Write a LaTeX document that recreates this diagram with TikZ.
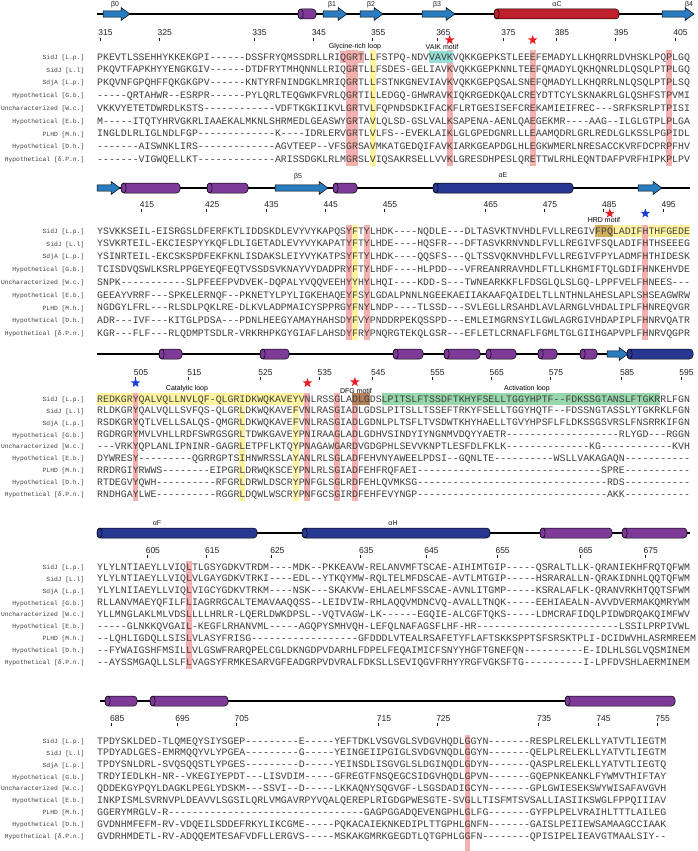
\documentclass[tikz,border=0pt]{standalone}
\usepackage{fontspec}
\setmainfont{Liberation Sans}
\setmonofont{Liberation Mono}
\usetikzlibrary{shapes.geometric}
\definecolor{seqgray}{RGB}{62,62,62}
\definecolor{numgray}{RGB}{30,30,30}
\definecolor{hlpink}{RGB}{245,176,176}
\definecolor{hlyel}{RGB}{253,243,160}
\definecolor{hlcyan}{RGB}{150,222,214}
\definecolor{hlgreen}{RGB}{152,214,172}
\definecolor{hlbrown}{RGB}{180,128,92}
\definecolor{hlkhaki}{RGB}{210,175,95}
\definecolor{strandblue}{RGB}{42,124,192}
\definecolor{helixpurple}{RGB}{125,58,150}
\definecolor{helixnavy}{RGB}{40,55,145}
\definecolor{helixred}{RGB}{192,32,44}
\definecolor{starred}{RGB}{235,30,40}
\definecolor{starblue}{RGB}{30,60,215}
\newcommand{\mystripe}[4]{\fill[#1] ({97+5.928*(#2)},#3) rectangle ({97+5.928*(#2+1)},#4);}
\newcommand{\myrbox}[4]{\fill[#1] ({97+5.928*(#2)},{#4-6.4}) rectangle ({97+5.928*(#3+1)},{#4+6.4});}
\newcommand{\mytick}[4]{\draw[tk] ({99.96+5.928*(#2)},{#3+1.6}) -- ({99.96+5.928*(#2)},{#3+4.6});
  \node[num] (#1) at ({99.96+5.928*(#2)-1.8},#3) {#4};}
\newcommand{\seqrow}[4]{\node[lab] (#1l) at (84.5,{#2+2.3}) {#3};
  \node[seq] (#1) at (97,{#2+3}) {#4};}
\newcommand{\strand}[3]{\draw[strandst] (#1,{#3-3.2}) -- ({#2-9},{#3-3.2}) -- ({#2-9},{#3-6.5}) -- (#2,#3) -- ({#2-9},{#3+6.5}) -- ({#2-9},{#3+3.2}) -- (#1,{#3+3.2}) -- cycle;}
\newcommand{\cyl}[4]{\draw[cylst,fill=#1,rounded corners=3.5] (#2,{#4-5}) rectangle (#3,{#4+5});
  \draw[cylst,fill=#1] ({#2+2.6},#4) ellipse [x radius=2.6, y radius=5];}
\begin{document}
\begin{tikzpicture}[x=1pt,y=-1pt,
  seq/.style={font=\ttfamily\fontsize{9.88}{10}\selectfont, anchor=base west, inner sep=0, text=seqgray},
  lab/.style={font=\ttfamily\fontsize{6.3}{7}\selectfont, anchor=base east, inner sep=0, text=seqgray},
  num/.style={font=\fontsize{8.5}{9}\selectfont, anchor=base west, inner sep=0, text=numgray},
  ssl/.style={font=\fontsize{7}{8}\selectfont, inner sep=0, text=numgray},
  motif/.style={font=\fontsize{7}{8}\selectfont, inner sep=0, text=black},
  tk/.style={line width=0.8pt, numgray},
  barline/.style={line width=1.3pt, black},
  strandst/.style={fill=strandblue, draw=black, line width=0.5pt},
  cylst/.style={draw=black, line width=0.5pt},
  rstar/.style={star, star points=5, star point ratio=2.4, fill=starred, draw=none, minimum size=10pt, inner sep=0},
  bstar/.style={star, star points=5, star point ratio=2.4, fill=starblue, draw=none, minimum size=10pt, inner sep=0}]
\fill[white] (0,0) rectangle (697,851);
\useasboundingbox (0,0) rectangle (697,851);

% ================= BLOCK 1 =================
\draw[barline] (97,14) -- (688,14);
\strand{103}{130}{14}
\cyl{helixpurple}{298}{316}{14}
\strand{323}{347}{14}
\strand{360}{383}{14}
\strand{422}{455}{14}
\cyl{helixred}{494}{619}{14}
\strand{662}{694}{14}
\node[ssl] (lb0) at (115,5) {β0};
\node[ssl] (lb1) at (332,5) {β1};
\node[ssl] (lb2) at (371,5) {β2};
\node[ssl] (lb3) at (437,5) {β3};
\node[ssl] (lac) at (557,4) {αC};
\node[ssl] (lb4) at (689,5) {β4};
\mytick{n315}{0}{36}{315}
\mytick{n325}{10}{36}{325}
\mytick{n335}{26}{36}{335}
\mytick{n345}{36}{36}{345}
\mytick{n355}{46}{36}{355}
\mytick{n365}{57}{36}{365}
\mytick{n375}{68}{36}{375}
\mytick{n385}{77}{36}{385}
\mytick{n395}{87}{36}{395}
\mytick{n405}{97}{36}{405}
\myrbox{hlpink}{41}{44}{57}
\foreach \c in {42,43,59,73,96} {\mystripe{hlpink}{\c}{50.5}{165.9}}
\mystripe{hlyel}{46}{50.5}{165.9}
\myrbox{hlcyan}{56}{59}{57}
\node[rstar] (st1) at ({99.96+5.928*59},40) {};
\node[rstar] (st2) at ({99.96+5.928*73},40) {};
\node[motif] (glyc) at (355,46.5) {Glycine-rich loop};
\node[motif] (vaik) at (442,46.5) {VAIK motif};
\seqrow{a1}{57}{SidJ [L.p.]}{PKEVTLSSEHHYKKEKGPI------DSSFRYQMSSDRLLRIQGRTLLFSTPQ-NDVVAVKVQKKGEPKSTLEEEFEMADYLLKHQRRLDVHSKLPQPLGQ}
\seqrow{a2}{69.8}{SidJ [L.l]}{PKQVTFAPKHYYENGKGIV------DTDFRYTMHQNNLLRIQGRTLLFSDES-GELIAVKVQKKGEPKNNLTEEFQMADYLQKHQNRLDLQSQLPTPLGQ}
\seqrow{a3}{82.6}{SdjA [L.p.]}{PKQVNFGPQHFFQKGKGPV------KNTYRFNINDGKLMRIQGRTLLFSTNKGNEVIAVKVQKKGEPQSALSNEFQMADYLLKHQRRLNLQSQLPTPLSQ}
\seqrow{a4}{95.4}{Hypothetical [G.b.]}{-----QRTAHWR--ESRPR------PYLQRLTEQGWKFVRLQGRTILLEDGQ-GHWRAVKIQKRGEDKQALCREYDTTCYLSKNAKRLGLQSHFSTPVMI}
\seqrow{a5}{108.2}{Uncharacterized [W.c.]}{VKKVYETETDWRDLKSTS------------VDFTKGKIIKVLGRTVLFQPNDSDKIFACKFLRTGESISEFCREKAMIEIFREC---SRFKSRLPTPISI}
\seqrow{a6}{121}{Hypothetical [E.b.]}{M-----ITQTYHRVGKRLIAAEKALMKNLSHRMEDLGEASWYGRTAVLQLSD-GSLVALKSAPENA-AENLQAEGEKMR----AAG--ILGLGTPLPLGA}
\seqrow{a7}{133.8}{PLHD [M.h.]}{INGLDLRLIGLNDLFGP-------------K----IDRLERVGRTLVLFS--EVEKLAIKLGLGPEDGNRLLLEAAMQDRLGRLREDLGLKSSLPGPIDL}
\seqrow{a8}{146.6}{Hypothetical [D.h.]}{-------AISWNKLIRS-------------AGVTEEP--VFSGRSAVMKATGEDQIFAVKIARKGEAPDGLHLEGKWMERLNRESACCKVRFDCPRPFHV}
\seqrow{a9}{159.4}{Hypothetical [δ.P.n.]}{-------VIGWQELLKT-------------ARISSDGKLRLMGRSLVIQSAKRSELLVVKLGRESDHPESLQRETTWLRHLEQNTDAFPVRFHIPKPLPV}

% ================= BLOCK 2 =================
\draw[barline] (97,188) -- (690,188);
\strand{97}{120}{188}
\cyl{helixpurple}{121}{180}{188}
\cyl{helixpurple}{207}{248}{188}
\strand{275}{328}{188}
\cyl{helixpurple}{333}{357}{188}
\cyl{helixnavy}{433}{573}{188}
\strand{638}{662}{188}
\node[ssl] (lb5) at (298,177) {β5};
\node[ssl] (lae) at (503,175) {αE};
\mytick{n415}{7}{207}{415}
\mytick{n425}{18}{207}{425}
\mytick{n435}{28}{207}{435}
\mytick{n445}{38}{207}{445}
\mytick{n455}{48}{207}{455}
\mytick{n465}{65}{207}{465}
\mytick{n475}{75}{207}{475}
\mytick{n485}{85}{207}{485}
\mytick{n495}{95}{207}{495}
\myrbox{hlyel}{87}{99}{231}
\foreach \c in {42,45,92} {\mystripe{hlpink}{\c}{224.5}{339.9}}
\mystripe{hlyel}{43}{224.5}{339.9}
\myrbox{hlkhaki}{84}{86}{231}
\node[rstar] (st3) at ({99.96+5.928*86},213.5) {};
\node[bstar] (st4) at ({99.96+5.928*92},213.5) {};
\node[motif] (hrd) at (604,220) {HRD motif};
\seqrow{b1}{231}{SidJ [L.p.]}{YSVKKSEIL-EISRGSLDFERFKTLIDDSKDLEVYVYKAPQSYFTYLHDK----NQDLE---DLTASVKTNVHDLFVLLREGIVFPQLADIFHTHFGEDE}
\seqrow{b2}{243.8}{SidJ [L.l]}{YSVKRTEIL-EKCIESPYYKQFLDLIGETADLEVYVYKAPATYFTYLHDE----HQSFR---DFTASVKRNVNDLFVLLREGIVFSQLADIFHTHSEEEG}
\seqrow{b3}{256.6}{SdjA [L.p.]}{YSINRTEIL-EKCSKSPDFEKFKNLISDAKSLEIYVYKATPSYFTYLHDK----QQSFS---QLTSSVQKNVHDLFVLLREGIVFPYLADMFHTHIDESK}
\seqrow{b4}{269.4}{Hypothetical [G.b.]}{TCISDVQSWLKSRLPPGEYEQFEQTVSSDSVKNAYVYDADPRYFTYLHDF----HLPDD---VFREANRRAVHDLFTLLKHGMIFTQLGDIFHNKEHVDE}
\seqrow{b5}{282.2}{Uncharacterized [W.c.]}{SNPK-----------SLPFEEFPVDVEK-DQPALYVQQVEEHYYHYLHQI----KDD-S---TWNEARKKFLFDSGLQLSLGQ-LPPFVELFHNEES---}
\seqrow{b6}{295}{Hypothetical [E.b.]}{GEEAYVRRF---SPKELERNQF--PKNETYLPYLIGKEHAQEYFSYLGDALPNNLNGEEKAEIIAKAAFQAIDELTLLNTHNLAHESLAPLSHSEAGWRW}
\seqrow{b7}{307.8}{PLHD [M.h.]}{NGDGYLFRL---RLSDLPQKLRE-DLKVLADPMAICYSPPRGYFNYLNDP----TLSSD---SVLEGLLRSAHDLAVLARNGLVHDALIPLFHNREQVGR}
\seqrow{b8}{320.6}{Hypothetical [D.h.]}{ADR---IVF---KITGLPDSA---PDNLHEEGYAMAYHAHSDYFVYPNDDRPEKQSSPD---EMLEIMGRNSYILGWLAGRGIVHDAPIPLFHNRVQATR}
\seqrow{b9}{333.4}{Hypothetical [δ.P.n.]}{KGR---FLF---RLQDMPTSDLR-VRKRHPKGYGIAFLAHSDYFRYPNQRGTEKQLGSR---EFLETLCRNAFLFGMLTGLGIIHGAPVPLFHNRVQGPR}

% ================= BLOCK 3 =================
\draw[barline] (97,354) -- (628,354);
\cyl{helixpurple}{159}{182}{354}
\cyl{helixpurple}{260}{289}{354}
\cyl{helixpurple}{393}{423}{354}
\cyl{helixpurple}{444}{480}{354}
\cyl{helixpurple}{486}{516}{354}
\cyl{helixpurple}{538}{557}{354}
\cyl{helixpurple}{580}{597}{354}
\strand{607}{628}{354}
\cyl{helixnavy}{627}{693}{354}
\mytick{n505}{6}{375}{505}
\mytick{n515}{15}{375}{515}
\mytick{n525}{27}{375}{525}
\mytick{n535}{37}{375}{535}
\mytick{n545}{46}{375}{545}
\mytick{n555}{56}{375}{555}
\mytick{n565}{66}{375}{565}
\mytick{n575}{76}{375}{575}
\mytick{n585}{88}{375}{585}
\mytick{n595}{98}{375}{595}
\myrbox{hlyel}{0}{35}{399}
\myrbox{hlgreen}{48}{94}{399}
\foreach \c in {6,35,40,43} {\mystripe{hlpink}{\c}{392.5}{500.7}}
\foreach \c in {24,33} {\mystripe{hlyel}{\c}{392.5}{500.7}}
\myrbox{hlbrown}{43}{45}{399}
\node[bstar] (st5) at ({99.96+5.928*6},383) {};
\node[rstar] (st6) at ({99.96+5.928*35},383) {};
\node[rstar] (st7) at ({99.96+5.928*43},382) {};
\node[motif] (catl) at (187,389) {Catalytic loop};
\node[motif] (dfg) at (356,391) {DFG motif};
\node[motif] (actl) at (527,389) {Activation loop};
\seqrow{c1}{399}{SidJ [L.p.]}{REDKGRYQALVQLLNVLQF-QLGRIDKWQKAVEYVNLRSSGLADLGDSLPITSLFTSSDFTKHYFSELLTGGYHPTF--FDKSSGTANSLFTGKRRLFGN}
\seqrow{c2}{410.9}{SidJ [L.l]}{RLDKGRYQALVQLLSVFQS-QLGRLDKWQKAVEFVNLRASGIADLGDSLPITSLLTSSEFTRKYFSELLTGGYHQTF--FDSSNGTASSLYTGKRKLFGN}
\seqrow{c3}{422.8}{SdjA [L.p.]}{RSDKGRYQTLVELLSALQS-QMGRLDKWQKAVEFVNLRASGIADLGDNLPLTSFLTVSDWTKHYHAELLTGVYHPSFLFLDKSSGSVRSLFNSRRKIFGN}
\seqrow{c4}{434.7}{Hypothetical [G.b.]}{RGDRGRYMVLVHLLRDFSWRGSGRLTDWKGAVEYPNIRAAGLADLGDHVSINDYIYNGNMVDQYYAETR-------------------RLYGD---RGGN}
\seqrow{c5}{446.6}{Uncharacterized [W.c.]}{---VRKYQPLANLIPNINR-GAGRLETPFLKTQYPNAGAWGARDVGDGPHLSEVVKNPTLESFDLFKLK--------------KG------------KVH}
\seqrow{c6}{458.5}{Hypothetical [E.b.]}{DYWRESY---------QGRRGPTSIHNWRSSLAYANLRLSGLADFEHVNYAWEELPDSI--GQNLTE----------WSLLVAKAGAQN-----------}
\seqrow{c7}{470.4}{PLHD [M.h.]}{RRDRGIYRWWS--------EIPGRLDRWQKSCEYPNLRLSGIADFEHFRQFAEI-------------------------------SPRE-----------}
\seqrow{c8}{482.3}{Hypothetical [D.h.]}{RTDEGVYQWH----------RFGRLDRWLDSCRYPNFGLSGLRDFEHLQVMKSG--------------------------------RDS-----------}
\seqrow{c9}{494.2}{Hypothetical [δ.P.n.]}{RNDHGAYLWE----------RGGRLDQWLWSCRYPNFGCSGIRDFEHFEVYNGP--------------------------------AKK-----------}

% ================= BLOCK 4 =================
\draw[barline] (97,533) -- (690,533);
\cyl{helixnavy}{97}{257}{533}
\cyl{helixnavy}{302}{490}{533}
\cyl{helixpurple}{540}{612}{533}
\cyl{helixpurple}{622}{687}{533}
\node[ssl] (laf) at (157,523) {αF};
\node[ssl] (lah) at (393,523) {αH};
\mytick{n605}{8}{553}{605}
\mytick{n615}{18}{553}{615}
\mytick{n625}{29}{553}{625}
\mytick{n635}{44}{553}{635}
\mytick{n645}{55}{553}{645}
\mytick{n655}{67}{553}{655}
\mytick{n665}{81}{553}{665}
\mytick{n675}{92}{553}{675}
\mystripe{hlpink}{15}{560.5}{668.7}
\seqrow{d1}{567}{SidJ [L.p.]}{YLYLNTIAEYLLVIQLTLGSYGDKVTRDM----MDK--PKKEAVW-RELANVMFTSCAE-AIHIMTGIP-----QSRALTLLK-QRANIEKHFRQTQFWM}
\seqrow{d2}{578.9}{SidJ [L.l]}{YLYLNTIAEYLLVIQLVLGAYGDKVTRKI----EDL--YTKQYMW-RQLTELMFDSCAE-AVTLMTGIP-----HSRARALLN-QRAKIDNHLQQTQFWM}
\seqrow{d3}{590.8}{SdjA [L.p.]}{YLYLNIIAEYLLVIQLVIGCYGDKVTRKM----NSK---SKAKVW-EHLAELMFSSCAE-AVNLITGMP-----KSRALAFLK-QRANVRKHTQQTSFWM}
\seqrow{d4}{602.7}{Hypothetical [G.b.]}{RLLANVMAEYQFILFLIAGRRGCALTEMAVAAQQSS--LEIDVIW-RHLAQQVMDNCVQ-AVALLTNQK-----EEHIAEALN-AVVDVERMAKQMRYWM}
\seqrow{d5}{614.6}{Uncharacterized [W.c.]}{YLLMNGLAKLMLVDSLLLLHRLR-LQERLDWKDPSL--VQTVAGW-LK------EGQIE-ALCGFTQKS-----LDMCRAFIDQLPIDWDRQAKQIMFWV}
\seqrow{d6}{626.5}{Hypothetical [E.b.]}{-----GLNKKQVGAIL-KEGFLRHANVML-----AGQPYSMHVQH-LEFQLNAFAGSFLHF-HR------------------------LSSILPRPIVWL}
\seqrow{d7}{638.4}{PLHD [M.h.]}{--LQHLIGDQLLSISLVLASYFRISG------------------GFDDDLVTEALRSAFETYFLAFTSKKSPPTSFSRSKTPLI-DCIDWVHLASRMREEM}
\seqrow{d8}{650.3}{Hypothetical [D.h.]}{--FYWAIGSHFMSILLVLGSWFRARQPELCGLDKNGDPVDARHLFDPELFEQAIMICFSNYYHGFTGNEFQN----------E-IDLHLSGLVQSMINEM}
\seqrow{d9}{662.2}{Hypothetical [δ.P.n.]}{--AYSSMGAQLLSLFLVAGSYFRMKESARVGFEADGRPVDVRALFDKSLLSEVIQGVFRHYYRGFVGKSFTG----------I-LPFDVSHLAERMINEM}

% ================= BLOCK 5 =================
\draw[barline] (100,701) -- (568,701);
\cyl{helixpurple}{105}{137}{701}
\cyl{helixpurple}{150}{228}{701}
\cyl{helixpurple}{565}{675}{701}
\mytick{n685}{2}{721}{685}
\mytick{n695}{13}{721}{695}
\mytick{n705}{23}{721}{705}
\mytick{n715}{47}{721}{715}
\mytick{n725}{57}{721}{725}
\mytick{n735}{74}{721}{735}
\mytick{n745}{84}{721}{745}
\mytick{n755}{94}{721}{755}
\mystripe{hlpink}{62}{734.5}{851}
\seqrow{e1}{741}{SidJ [L.p.]}{TPDYSKLDED-TLQMEQYSIYSGEP---------E-----YEFTDKLVSGVGLSVDGVHQDLGGYN-------RESPLRELEKLLYATVTLIEGTM}
\seqrow{e2}{752.9}{SidJ [L.l]}{TPDYADLGES-EMRMQQYVLYPGEA---------G-----YEINGEIIPGIGLSVDGVNQDLGGYN-------QELPLRELEKLLYATVTLIEGTM}
\seqrow{e3}{764.8}{SdjA [L.p.]}{TPDYSNLDRL-SVQSQQSTLYPGES---------D-----YEINSDLISGVGLSLDGINQDLGDYN-------QASPLRELEKLLYATVTLIEGTQ}
\seqrow{e4}{776.7}{Hypothetical [G.b.]}{TRDYIEDLKH-NR--VKEGIYEPDT---LISVDIM-----GFREGTFNSQEGCSIDGVHQDLGPVN-------GQEPNKEANKLFYWMVTHIFTAY}
\seqrow{e5}{788.6}{Uncharacterized [W.c.]}{QDDEKGYPQYLDAGKLPEGLYDSKM---SSVI--D-----LKKAQNYSQGVGF-LSGSDADIGCYN-------GPLGWIESEKSWYWISAFAVGVH}
\seqrow{e6}{800.5}{Hypothetical [E.b.]}{INKPISMLSVRNVPLDEAVVLSGSILQRLVMGAVRPYVQALQEREPLRIGDGPWESGTE-SVGLLTISFMTSVSALLIASIIKSWGLFPPQIIIAV}
\seqrow{e7}{812.4}{PLHD [M.h.]}{GGERYMRGLV-R---------------------------------GAGPGGADQEVENGPHLGLFG-------GYFPLPELVRAIHLTTTLAILEG}
\seqrow{e8}{824.3}{Hypothetical [D.h.]}{GVDNHMFEFM-RV-VDQEILSDDEFRKYLIKCGME-----PQKACAIEKNKEDIPLTTGPHLGNFN-------GAISLPEIIEWSAMAAGCCIAAK}
\seqrow{e9}{836.2}{Hypothetical [δ.P.n.]}{GVDRHMDETL-RV-ADQQEMTESAFVDFLLERGVS-----MSKAKGMRKGEGDTLQTGPHLGGFN--------QPISIPELIEAVGTMAALSIY--}
\end{tikzpicture}
\end{document}
